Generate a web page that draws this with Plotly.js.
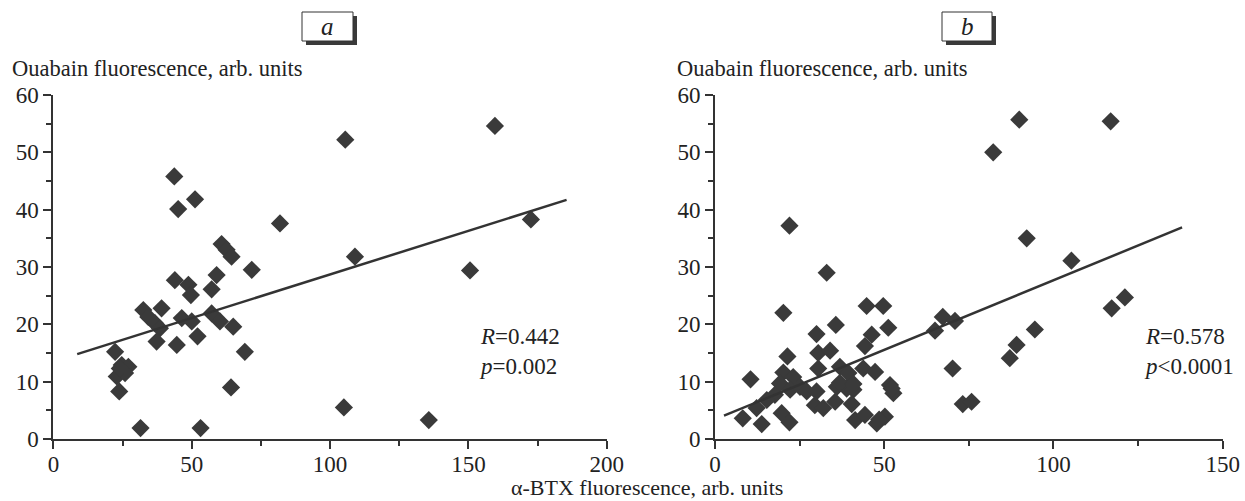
<!DOCTYPE html>
<html>
<head>
<meta charset="utf-8">
<script src="https://cdn.plot.ly/plotly-3.0.1.min.js"></script>
<style>html,body{margin:0;padding:0;background:#fff;}#chart{width:1245px;height:501px;}</style>
</head>
<body>
<div id="chart"></div>
<script>
// Panel a data (α-BTX vs ouabain fluorescence)
const aX = [105.5,43.7,51.2,45.1,81.9,60.8,62.6,64.4,109,71.7,43.9,59,57.2,48.8,49.7,39.1,32.5,34.3,36.7,38.5,46.4,50,57.2,60.2,65,37.3,44.6,52.1,69.2,22.3,24.7,27.1,22.9,25.9,24,23.8,64.2,105,31.5,53.2,159.6,172.6,150.6,135.7];
const aY = [52.2,45.8,41.8,40.1,37.6,34.0,33.0,31.8,31.8,29.5,27.7,28.6,26.1,26.9,25.1,22.8,22.5,21.3,20.2,19.3,21.1,20.5,21.9,20.5,19.6,17.0,16.4,17.9,15.2,15.2,12.9,12.6,10.9,11.5,12.3,8.3,9.0,5.5,1.9,1.9,54.6,38.3,29.4,3.3];
const aLineX = [8.6, 185.5];
const aLineY = [14.8, 41.7];

// Panel b data
const bX = [89.9,116.9,82.2,22,92.1,105.3,33.0,121.1,117.2,20.2,44.8,49.7,67.3,70.9,65.0,94.5,89.1,87.1,70.2,73.2,75.8,35.7,51.2,30.0,46.3,44.3,30.5,34.0,21.4,10.5,20.2,23.1,30.5,36.9,39.4,43.8,47.3,51.7,52.7,19.2,22.2,25.1,27.1,30.0,36.0,38.9,40.9,17.7,15.3,12.3,8.2,13.8,19.7,22.0,29.5,32.0,35.5,40.4,41.4,44.3,47.8,50.2,48.5,36.9,40.9,52.2];
const bY = [55.7,55.4,50.0,37.2,35.0,31.1,29.0,24.7,22.8,22.0,23.2,23.2,21.3,20.6,18.9,19.1,16.4,14.1,12.3,6.1,6.5,19.9,19.4,18.3,18.2,16.2,15.0,15.4,14.4,10.4,11.6,10.8,12.3,12.6,11.5,12.3,11.7,9.4,8.0,9.7,8.6,9.1,8.3,8.3,9.1,8.8,8.6,7.7,6.8,5.4,3.6,2.6,4.5,2.9,5.9,5.4,6.5,6.1,3.3,4.2,2.7,3.9,3.4,9.8,9.6,8.8];
const bLineX = [2.66, 138];
const bLineY = [4.07, 36.9];

const xTicksA = [0, 50, 100, 150, 200];
const xTicksB = [0, 50, 100, 150];
const yTicks = [0, 10, 20, 30, 40, 50, 60];

const W = 1245, H = 501;
const px = v => v / W;
const py = v => 1 - v / H;

const serif = "'Liberation Serif', 'Times New Roman', Times, serif";
const ink = '#333333';
const mk = {symbol: 'diamond', size: 14, color: '#3a3a3a', line: {width: 0}};

const traces = [
  {x: aX, y: aY, type: 'scatter', mode: 'markers', marker: mk, xaxis: 'x', yaxis: 'y', cliponaxis: false},
  {x: aLineX, y: aLineY, type: 'scatter', mode: 'lines', line: {color: ink, width: 2.5}, xaxis: 'x', yaxis: 'y'},
  {x: bX, y: bY, type: 'scatter', mode: 'markers', marker: mk, xaxis: 'x2', yaxis: 'y2', cliponaxis: false},
  {x: bLineX, y: bLineY, type: 'scatter', mode: 'lines', line: {color: ink, width: 2.5}, xaxis: 'x2', yaxis: 'y2'}
];

function xax(dom, range, ticks, anchor) {
  return {
    domain: dom, range: range, anchor: anchor,
    tickmode: 'array', tickvals: ticks, ticktext: ticks.map(String),
    showline: true, linecolor: ink, linewidth: 2,
    ticks: 'outside', ticklen: 8, tickwidth: 2, tickcolor: ink,
    ticklabelstandoff: -5,
    minor: {dtick: 25, ticks: 'outside', ticklen: 5, tickwidth: 2, tickcolor: ink, showgrid: false},
    showgrid: false, zeroline: false,
    tickfont: {family: serif, size: 23, color: '#222'}
  };
}
function yax(range, ticks, anchor) {
  return {
    domain: [py(439), py(95)], range: range, anchor: anchor,
    tickmode: 'array', tickvals: ticks, ticktext: ticks.map(String),
    showline: true, linecolor: ink, linewidth: 2,
    ticks: 'outside', ticklen: 8, tickwidth: 2, tickcolor: ink,
    minor: {dtick: 5, ticks: 'outside', ticklen: 5, tickwidth: 2, tickcolor: ink, showgrid: false},
    showgrid: false, zeroline: false,
    tickfont: {family: serif, size: 23, color: '#222'}
  };
}

function box(x0, y0, x1, y1) {
  return [
    {type: 'rect', xref: 'paper', yref: 'paper', x0: px(x0 + 4), x1: px(x1 + 4), y0: py(y1 + 4), y1: py(y0 + 4), fillcolor: '#3a3a3a', line: {width: 0}},
    {type: 'rect', xref: 'paper', yref: 'paper', x0: px(x0), x1: px(x1), y0: py(y1), y1: py(y0), fillcolor: '#ffffff', line: {color: ink, width: 1}}
  ];
}

const layout = {
  width: W, height: H,
  margin: {l: 0, r: 0, t: 0, b: 0},
  paper_bgcolor: '#fff', plot_bgcolor: '#fff',
  showlegend: false,
  font: {family: serif, color: '#222'},
  xaxis: xax([px(53.4), px(606.7)], [0, 200], xTicksA, 'y'),
  yaxis: yax([0, 60], yTicks, 'x'),
  xaxis2: xax([px(715), px(1222.7)], [0, 150], xTicksB, 'y2'),
  yaxis2: yax([0, 60], yTicks, 'x2'),
  shapes: [].concat(box(302, 12, 353, 41), box(942, 12, 992, 41)),
  annotations: [
    {xref: 'paper', yref: 'paper', x: px(327.5), y: py(27), text: '<i>a</i>', showarrow: false, font: {family: serif, size: 25, color: '#222'}, xanchor: 'center', yanchor: 'middle'},
    {xref: 'paper', yref: 'paper', x: px(967), y: py(27), text: '<i>b</i>', showarrow: false, font: {family: serif, size: 25, color: '#222'}, xanchor: 'center', yanchor: 'middle'},
    {xref: 'paper', yref: 'paper', x: px(10), y: py(68), text: 'Ouabain fluorescence, arb. units', showarrow: false, font: {family: serif, size: 22.5, color: '#222'}, xanchor: 'left', yanchor: 'middle'},
    {xref: 'paper', yref: 'paper', x: px(675), y: py(68), text: 'Ouabain fluorescence, arb. units', showarrow: false, font: {family: serif, size: 22.5, color: '#222'}, xanchor: 'left', yanchor: 'middle'},
    {xref: 'paper', yref: 'paper', x: px(647), y: py(487), text: 'α-BTX fluorescence, arb. units', showarrow: false, font: {family: serif, size: 22, color: '#222'}, xanchor: 'center', yanchor: 'middle', borderpad: 0},
    {xref: 'paper', yref: 'paper', x: px(477), y: py(351), text: '<i>R</i>=0.442<br><i>p</i>=0.002', showarrow: false, align: 'left', font: {family: serif, size: 23, color: '#222'}, xanchor: 'left', yanchor: 'middle'},
    {xref: 'paper', yref: 'paper', x: px(1142), y: py(351), text: '<i>R</i>=0.578<br><i>p</i><0.0001', showarrow: false, align: 'left', font: {family: serif, size: 23, color: '#222'}, xanchor: 'left', yanchor: 'middle'}
  ]
};

Plotly.newPlot('chart', traces, layout, {displayModeBar: false, staticPlot: true});
</script>
</body>
</html>
